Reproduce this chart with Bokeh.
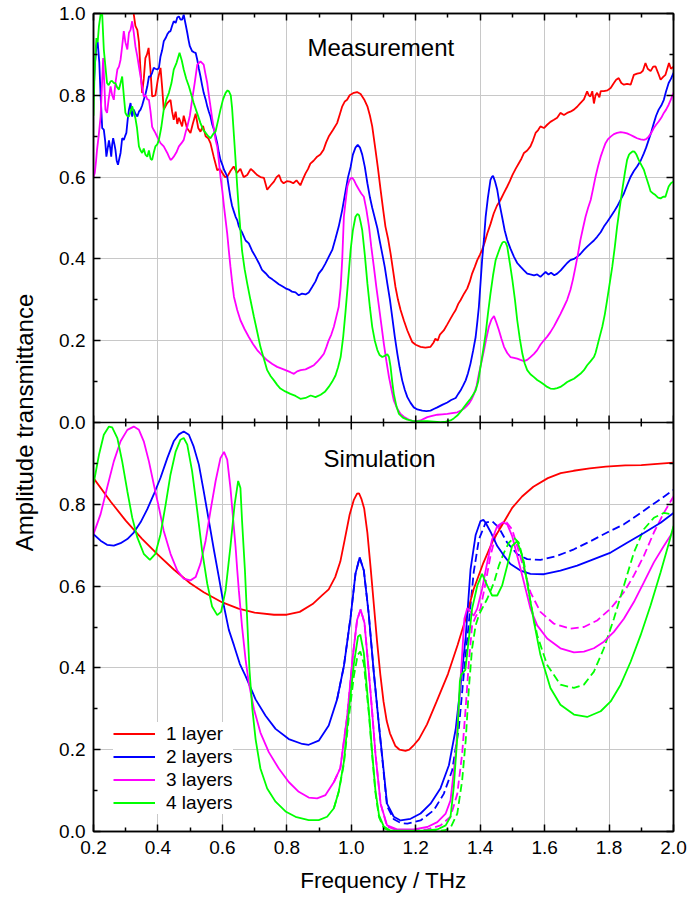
from bokeh.plotting import figure
from bokeh.models import (Range1d, LinearAxis, FixedTicker, PrintfTickFormatter,
                          Span, Label, Legend, LegendItem)
from bokeh.embed import file_html
from bokeh.resources import INLINE

# ---------------- data ----------------
X_MAJOR = [0.2, 0.4, 0.6, 0.8, 1.0, 1.2, 1.4, 1.6, 1.8, 2.0]
X_MINOR = [0.3, 0.5, 0.7, 0.9, 1.1, 1.3, 1.5, 1.7, 1.9]
Y_MAJOR = [0.0, 0.2, 0.4, 0.6, 0.8, 1.0, 1.2, 1.4, 1.6, 1.8, 2.0]
Y_MINOR = [0.1, 0.3, 0.5, 0.7, 0.9, 1.1, 1.3, 1.5, 1.7, 1.9]
# labels of the upper (Measurement) panel ticks
Y_TOP_LABELS = {1.0: "0.0", 1.2: "0.2", 1.4: "0.4", 1.6: "0.6", 1.8: "0.8", 2.0: "1.0"}

SERIES_NAMES = ["1 layer", "2 layers", "3 layers", "4 layers"]
COLORS = ["#ff0000", "#0000ff", "#ff00ff", "#00ff00"]

# Measurement, 1 layer
M1 = [(0.315,1.03),(0.325,0.998),(0.330,0.97),(0.336,0.96),(0.341,0.93),(0.346,0.86),(0.351,0.806),
(0.356,0.84),(0.361,0.891),(0.366,0.90),(0.371,0.916),(0.377,0.86),(0.382,0.797),(0.392,0.80),
(0.400,0.84),(0.408,0.867),(0.413,0.82),(0.418,0.765),(0.428,0.78),(0.439,0.789),(0.444,0.76),
(0.449,0.74),(0.455,0.76),(0.460,0.73),(0.465,0.745),(0.475,0.724),(0.480,0.75),(0.490,0.72),
(0.501,0.708),(0.508,0.73),(0.517,0.755),(0.525,0.72),(0.532,0.711),(0.540,0.725),(0.548,0.70),
(0.556,0.695),(0.563,0.683),(0.573,0.65),(0.584,0.617),(0.592,0.62),(0.600,0.61),(0.608,0.60),
(0.615,0.601),(0.625,0.615),(0.635,0.626),(0.645,0.61),(0.656,0.62),(0.666,0.60),(0.677,0.605),
(0.688,0.62),(0.698,0.613),(0.708,0.605),(0.718,0.60),(0.729,0.598),(0.739,0.569),(0.750,0.58),
(0.760,0.589),(0.768,0.60),(0.776,0.605),(0.783,0.59),(0.790,0.585),(0.800,0.59),(0.810,0.589),
(0.820,0.585),(0.830,0.592),(0.842,0.58),(0.850,0.595),(0.858,0.609),(0.866,0.62),(0.873,0.633),
(0.883,0.64),(0.894,0.65),(0.904,0.655),(0.914,0.667),(0.922,0.685),(0.930,0.699),(0.943,0.715),
(0.956,0.732),(0.965,0.755),(0.972,0.773),(0.980,0.785),(0.987,0.789),(0.995,0.80),(1.008,0.806),
(1.018,0.808),(1.029,0.803),(1.040,0.79),(1.050,0.773),(1.058,0.75),(1.065,0.724),(1.075,0.667),
(1.083,0.62),(1.091,0.569),(1.099,0.52),(1.106,0.479),(1.114,0.45),(1.122,0.413),(1.130,0.37),
(1.137,0.332),(1.145,0.30),(1.153,0.275),(1.163,0.25),(1.174,0.225),(1.182,0.21),(1.189,0.197),
(1.200,0.19),(1.215,0.185),(1.230,0.183),(1.246,0.185),(1.255,0.195),(1.261,0.205),(1.268,0.20),
(1.275,0.215),(1.287,0.225),(1.298,0.24),(1.308,0.254),(1.316,0.265),(1.324,0.275),(1.332,0.29),
(1.339,0.299),(1.350,0.315),(1.360,0.328),(1.368,0.345),(1.375,0.364),(1.383,0.38),(1.391,0.397),
(1.399,0.41),(1.406,0.422),(1.414,0.44),(1.422,0.462),(1.432,0.485),(1.442,0.511),(1.452,0.53),
(1.463,0.544),(1.473,0.56),(1.484,0.577),(1.492,0.59),(1.500,0.605),(1.510,0.62),(1.520,0.634),
(1.528,0.645),(1.536,0.659),(1.546,0.665),(1.556,0.675),(1.564,0.69),(1.572,0.708),(1.580,0.715),
(1.587,0.724),(1.598,0.72),(1.608,0.728),(1.618,0.735),(1.629,0.74),(1.639,0.745),(1.649,0.757),
(1.660,0.752),(1.670,0.757),(1.680,0.76),(1.691,0.765),(1.701,0.772),(1.711,0.781),(1.722,0.79),
(1.732,0.81),(1.737,0.80),(1.742,0.797),(1.748,0.81),(1.753,0.78),(1.758,0.80),(1.763,0.806),
(1.770,0.795),(1.774,0.81),(1.784,0.81),(1.795,0.812),(1.805,0.818),(1.815,0.83),(1.822,0.838),
(1.830,0.842),(1.838,0.83),(1.846,0.826),(1.856,0.828),(1.867,0.826),(1.877,0.85),(1.887,0.853),
(1.898,0.855),(1.905,0.86),(1.913,0.879),(1.920,0.865),(1.929,0.859),(1.937,0.87),(1.944,0.871),
(1.952,0.855),(1.960,0.838),(1.968,0.845),(1.975,0.85),(1.986,0.879),(1.992,0.865),(2.000,0.87)]

# Measurement, 2 layers
M2 = [(0.200,0.80),(0.204,0.87),(0.209,0.92),(0.213,0.93),(0.218,0.88),(0.222,0.80),(0.227,0.72),
(0.232,0.716),(0.236,0.69),(0.240,0.65),(0.244,0.67),(0.248,0.69),(0.252,0.67),(0.255,0.65),
(0.258,0.68),(0.261,0.695),(0.265,0.68),(0.268,0.667),(0.272,0.64),(0.276,0.63),(0.280,0.645),
(0.284,0.659),(0.289,0.695),(0.294,0.691),(0.298,0.70),(0.302,0.708),(0.306,0.74),(0.310,0.765),
(0.315,0.781),(0.320,0.748),(0.325,0.765),(0.330,0.755),(0.336,0.748),(0.341,0.76),(0.346,0.765),
(0.351,0.775),(0.356,0.789),(0.362,0.805),(0.367,0.822),(0.372,0.846),(0.377,0.846),(0.382,0.855),
(0.387,0.867),(0.392,0.865),(0.398,0.863),(0.403,0.867),(0.408,0.895),(0.413,0.91),(0.418,0.932),
(0.424,0.94),(0.429,0.949),(0.434,0.955),(0.439,0.957),(0.444,0.97),(0.449,0.981),(0.455,0.977),
(0.460,0.99),(0.465,0.993),(0.470,0.985),(0.475,0.985),(0.480,0.997),(0.486,0.973),(0.491,0.953),
(0.495,0.935),(0.499,0.92),(0.506,0.908),(0.512,0.905),(0.517,0.904),(0.522,0.887),(0.527,0.865),
(0.532,0.846),(0.537,0.825),(0.542,0.806),(0.548,0.79),(0.553,0.773),(0.558,0.76),(0.563,0.748),
(0.568,0.73),(0.574,0.716),(0.579,0.70),(0.584,0.683),(0.589,0.66),(0.594,0.642),(0.600,0.63),
(0.605,0.618),(0.610,0.61),(0.615,0.601),(0.620,0.575),(0.625,0.55),(0.630,0.53),(0.636,0.515),
(0.641,0.503),(0.646,0.495),(0.651,0.48),(0.656,0.471),(0.661,0.465),(0.672,0.445),(0.682,0.438),
(0.692,0.42),(0.703,0.405),(0.713,0.39),(0.723,0.373),(0.734,0.365),(0.744,0.356),(0.755,0.35),
(0.765,0.344),(0.775,0.338),(0.786,0.333),(0.796,0.328),(0.806,0.325),(0.816,0.32),(0.827,0.318),
(0.837,0.311),(0.847,0.315),(0.858,0.313),(0.868,0.318),(0.879,0.332),(0.889,0.345),(0.899,0.364),
(0.910,0.375),(0.920,0.389),(0.930,0.405),(0.941,0.422),(0.951,0.45),(0.961,0.479),(0.972,0.52),
(0.982,0.565),(0.990,0.60),(0.998,0.625),(1.005,0.655),(1.013,0.672),(1.020,0.679),(1.027,0.672),
(1.034,0.655),(1.042,0.625),(1.050,0.585),(1.058,0.55),(1.065,0.525),(1.073,0.50),(1.081,0.475),
(1.088,0.445),(1.096,0.413),(1.104,0.38),(1.112,0.339),(1.120,0.30),(1.127,0.258),(1.135,0.21),
(1.143,0.168),(1.150,0.135),(1.158,0.103),(1.166,0.08),(1.174,0.062),(1.184,0.048),(1.194,0.037),
(1.205,0.032),(1.220,0.029),(1.233,0.028),(1.246,0.029),(1.256,0.033),(1.267,0.037),(1.282,0.043),
(1.298,0.049),(1.310,0.055),(1.324,0.06),(1.332,0.07),(1.339,0.078),(1.347,0.09),(1.355,0.103),
(1.362,0.12),(1.370,0.144),(1.378,0.175),(1.386,0.209),(1.391,0.245),(1.396,0.283),(1.401,0.34),
(1.406,0.397),(1.412,0.45),(1.417,0.503),(1.424,0.55),(1.432,0.593),(1.437,0.601),(1.440,0.603),
(1.446,0.59),(1.453,0.569),(1.460,0.535),(1.468,0.503),(1.476,0.47),(1.484,0.446),(1.494,0.425),
(1.505,0.405),(1.515,0.39),(1.525,0.381),(1.536,0.372),(1.546,0.364),(1.556,0.362),(1.567,0.36),
(1.577,0.362),(1.587,0.356),(1.595,0.362),(1.603,0.368),(1.612,0.362),(1.620,0.366),(1.630,0.36),
(1.639,0.364),(1.650,0.372),(1.660,0.381),(1.670,0.39),(1.680,0.397),(1.691,0.40),(1.701,0.405),
(1.711,0.412),(1.722,0.422),(1.732,0.43),(1.743,0.438),(1.753,0.445),(1.763,0.454),(1.774,0.465),
(1.784,0.479),(1.794,0.49),(1.805,0.503),(1.815,0.515),(1.825,0.528),(1.836,0.545),(1.846,0.56),
(1.856,0.58),(1.867,0.601),(1.877,0.615),(1.887,0.626),(1.898,0.64),(1.908,0.658),(1.915,0.672),
(1.923,0.691),(1.931,0.71),(1.939,0.732),(1.946,0.75),(1.954,0.765),(1.962,0.775),(1.970,0.789),
(1.977,0.81),(1.985,0.83),(1.992,0.84),(2.000,0.855)]

# Measurement, 3 layers
M3 = [(0.200,0.60),(0.204,0.61),(0.208,0.64),(0.211,0.667),(0.216,0.70),(0.222,0.748),(0.226,0.82),
(0.230,0.891),(0.234,0.82),(0.237,0.765),(0.242,0.757),(0.247,0.79),(0.253,0.822),(0.258,0.80),
(0.263,0.789),(0.268,0.83),(0.274,0.863),(0.279,0.87),(0.284,0.887),(0.289,0.92),(0.294,0.957),
(0.299,0.93),(0.305,0.912),(0.310,0.953),(0.315,0.96),(0.320,0.981),(0.325,0.953),(0.330,0.92),
(0.336,0.895),(0.341,0.87),(0.346,0.846),(0.351,0.82),(0.356,0.797),(0.362,0.80),(0.367,0.79),
(0.372,0.789),(0.377,0.76),(0.382,0.723),(0.387,0.715),(0.392,0.708),(0.400,0.695),(0.408,0.683),
(0.418,0.675),(0.429,0.659),(0.434,0.65),(0.439,0.642),(0.444,0.645),(0.449,0.65),(0.457,0.66),
(0.465,0.675),(0.473,0.683),(0.480,0.691),(0.486,0.71),(0.491,0.723),(0.499,0.75),(0.506,0.789),
(0.514,0.83),(0.522,0.875),(0.532,0.883),(0.542,0.875),(0.548,0.85),(0.553,0.83),(0.558,0.80),
(0.563,0.773),(0.568,0.745),(0.574,0.716),(0.579,0.69),(0.584,0.675),(0.589,0.64),(0.594,0.601),
(0.600,0.565),(0.605,0.528),(0.610,0.495),(0.615,0.462),(0.620,0.42),(0.625,0.381),(0.630,0.345),
(0.636,0.307),(0.646,0.275),(0.656,0.25),(0.669,0.228),(0.682,0.209),(0.695,0.192),(0.708,0.177),
(0.722,0.165),(0.739,0.152),(0.755,0.143),(0.770,0.136),(0.790,0.13),(0.811,0.123),(0.822,0.119),
(0.832,0.125),(0.843,0.128),(0.858,0.13),(0.874,0.136),(0.884,0.14),(0.894,0.148),(0.905,0.158),
(0.915,0.168),(0.923,0.185),(0.930,0.201),(0.938,0.215),(0.946,0.234),(0.954,0.26),(0.961,0.283),
(0.967,0.33),(0.972,0.40),(0.977,0.503),(0.983,0.545),(0.988,0.577),(0.993,0.59),(0.998,0.597),
(1.003,0.598),(1.008,0.593),(1.016,0.58),(1.024,0.569),(1.031,0.56),(1.039,0.552),(1.047,0.52),
(1.055,0.479),(1.062,0.43),(1.070,0.381),(1.078,0.33),(1.086,0.283),(1.094,0.235),(1.101,0.193),
(1.109,0.15),(1.117,0.111),(1.125,0.08),(1.132,0.054),(1.142,0.035),(1.153,0.021),(1.163,0.014),
(1.174,0.009),(1.184,0.005),(1.194,0.003),(1.205,0.004),(1.215,0.005),(1.225,0.009),(1.236,0.013),
(1.251,0.016),(1.267,0.019),(1.282,0.02),(1.298,0.021),(1.313,0.023),(1.329,0.025),(1.340,0.029),
(1.350,0.034),(1.358,0.04),(1.365,0.046),(1.373,0.056),(1.381,0.07),(1.389,0.09),(1.396,0.119),
(1.404,0.148),(1.412,0.177),(1.419,0.205),(1.427,0.234),(1.435,0.252),(1.443,0.26),(1.450,0.245),
(1.458,0.226),(1.466,0.205),(1.474,0.185),(1.484,0.17),(1.494,0.16),(1.505,0.158),(1.515,0.156),
(1.525,0.153),(1.536,0.15),(1.546,0.153),(1.556,0.16),(1.567,0.168),(1.577,0.177),(1.587,0.19),
(1.598,0.201),(1.608,0.21),(1.618,0.221),(1.629,0.235),(1.639,0.25),(1.649,0.265),(1.660,0.283),
(1.670,0.30),(1.680,0.324),(1.688,0.35),(1.696,0.381),(1.703,0.41),(1.711,0.446),(1.719,0.475),
(1.727,0.503),(1.735,0.525),(1.743,0.544),(1.750,0.57),(1.758,0.601),(1.766,0.627),(1.774,0.65),
(1.782,0.668),(1.789,0.683),(1.797,0.693),(1.805,0.699),(1.815,0.705),(1.825,0.708),(1.836,0.71),
(1.846,0.709),(1.856,0.707),(1.867,0.703),(1.877,0.699),(1.887,0.695),(1.898,0.692),(1.908,0.691),
(1.915,0.693),(1.923,0.699),(1.931,0.708),(1.939,0.72),(1.946,0.728),(1.954,0.736),(1.962,0.745),
(1.970,0.757),(1.977,0.765),(1.985,0.777),(1.992,0.79),(2.000,0.806)]

# Measurement, 4 layers
M4 = [(0.200,0.75),(0.203,0.85),(0.206,0.90),(0.209,0.94),(0.213,0.93),(0.217,0.97),(0.222,0.998),
(0.227,0.998),(0.232,0.912),(0.237,0.87),(0.242,0.830),(0.247,0.825),(0.253,0.834),(0.258,0.835),
(0.263,0.83),(0.268,0.830),(0.273,0.82),(0.279,0.814),(0.284,0.83),(0.289,0.846),(0.294,0.80),
(0.299,0.757),(0.304,0.75),(0.310,0.748),(0.315,0.76),(0.320,0.773),(0.325,0.76),(0.330,0.744),
(0.335,0.72),(0.341,0.675),(0.346,0.665),(0.351,0.659),(0.356,0.67),(0.361,0.655),(0.367,0.650),
(0.372,0.665),(0.377,0.645),(0.382,0.642),(0.387,0.66),(0.392,0.675),(0.398,0.68),(0.403,0.691),
(0.410,0.72),(0.418,0.765),(0.426,0.79),(0.434,0.806),(0.442,0.83),(0.449,0.863),(0.458,0.88),
(0.467,0.904),(0.474,0.885),(0.480,0.863),(0.488,0.84),(0.496,0.822),(0.504,0.80),(0.511,0.781),
(0.520,0.76),(0.532,0.732),(0.540,0.716),(0.548,0.708),(0.556,0.70),(0.563,0.695),(0.571,0.705),
(0.579,0.712),(0.587,0.74),(0.594,0.765),(0.602,0.79),(0.610,0.806),(0.616,0.812),(0.620,0.810),
(0.626,0.80),(0.630,0.77),(0.636,0.70),(0.641,0.64),(0.646,0.577),(0.651,0.52),(0.656,0.47),
(0.661,0.42),(0.669,0.375),(0.677,0.34),(0.687,0.30),(0.698,0.258),(0.708,0.222),(0.718,0.185),
(0.729,0.155),(0.739,0.128),(0.750,0.113),(0.760,0.103),(0.770,0.092),(0.780,0.083),(0.795,0.076),
(0.811,0.070),(0.827,0.065),(0.842,0.058),(0.858,0.06),(0.874,0.066),(0.889,0.062),(0.905,0.068),
(0.918,0.075),(0.930,0.087),(0.941,0.10),(0.951,0.115),(0.959,0.135),(0.967,0.16),(0.975,0.21),
(0.982,0.27),(0.990,0.345),(0.998,0.422),(1.005,0.47),(1.013,0.503),(1.019,0.51),(1.024,0.507),
(1.029,0.49),(1.034,0.47),(1.042,0.41),(1.050,0.34),(1.058,0.28),(1.065,0.234),(1.073,0.20),
(1.081,0.177),(1.088,0.165),(1.096,0.16),(1.104,0.163),(1.112,0.167),(1.117,0.16),(1.122,0.136),
(1.127,0.10),(1.132,0.07),(1.140,0.04),(1.148,0.021),(1.160,0.012),(1.174,0.007),(1.190,0.004),
(1.205,0.003),(1.220,0.003),(1.236,0.003),(1.256,0.002),(1.277,0.001),(1.293,0.002),(1.308,0.005),
(1.318,0.01),(1.329,0.017),(1.340,0.027),(1.350,0.038),(1.360,0.048),(1.370,0.058),(1.378,0.068),
(1.386,0.078),(1.394,0.10),(1.401,0.136),(1.409,0.175),(1.417,0.217),(1.424,0.265),(1.432,0.315),
(1.440,0.36),(1.448,0.397),(1.456,0.415),(1.463,0.430),(1.469,0.44),(1.474,0.442),(1.479,0.44),
(1.484,0.43),(1.492,0.39),(1.500,0.348),(1.508,0.30),(1.515,0.25),(1.523,0.205),(1.531,0.168),
(1.538,0.145),(1.546,0.128),(1.556,0.118),(1.567,0.111),(1.577,0.104),(1.587,0.099),(1.598,0.093),
(1.608,0.087),(1.618,0.083),(1.629,0.082),(1.639,0.084),(1.649,0.087),(1.660,0.093),(1.670,0.099),
(1.680,0.103),(1.691,0.107),(1.701,0.113),(1.711,0.119),(1.722,0.128),(1.732,0.14),(1.743,0.15),
(1.753,0.16),(1.758,0.17),(1.763,0.185),(1.771,0.21),(1.779,0.234),(1.787,0.265),(1.794,0.299),
(1.802,0.34),(1.810,0.381),(1.818,0.43),(1.825,0.479),(1.833,0.525),(1.841,0.569),(1.849,0.61),
(1.856,0.642),(1.862,0.655),(1.867,0.659),(1.873,0.663),(1.879,0.662),(1.885,0.655),(1.892,0.642),
(1.900,0.63),(1.908,0.618),(1.913,0.605),(1.918,0.593),(1.924,0.578),(1.929,0.565),(1.937,0.56),
(1.944,0.556),(1.952,0.55),(1.960,0.548),(1.968,0.552),(1.975,0.552),(1.980,0.565),(1.985,0.577),
(1.992,0.585),(2.000,0.589)]

# Simulation, solid lines
S1 = [(0.200,0.864),(0.253,0.807),(0.300,0.760),(0.325,0.738),(0.350,0.716),(0.398,0.678),
(0.450,0.640),(0.500,0.607),(0.542,0.585),(0.600,0.560),(0.650,0.545),(0.700,0.535),(0.760,0.530),
(0.800,0.530),(0.840,0.537),(0.880,0.556),(0.910,0.578),(0.930,0.592),(0.950,0.622),(0.966,0.660),
(0.980,0.715),(0.995,0.775),(1.008,0.811),(1.018,0.826),(1.024,0.827),(1.032,0.812),(1.040,0.790),
(1.050,0.730),(1.060,0.645),(1.070,0.555),(1.080,0.465),(1.090,0.385),(1.100,0.318),(1.110,0.270),
(1.120,0.240),(1.137,0.209),(1.150,0.200),(1.168,0.197),(1.180,0.200),(1.195,0.212),(1.210,0.226),
(1.235,0.262),(1.265,0.318),(1.300,0.385),(1.330,0.456),(1.355,0.520),(1.380,0.593),(1.410,0.657),
(1.440,0.712),(1.470,0.752),(1.500,0.792),(1.530,0.819),(1.565,0.843),(1.610,0.864),(1.650,0.876),
(1.690,0.882),(1.740,0.888),(1.790,0.892),(1.850,0.895),(1.900,0.896),(1.950,0.899),(2.000,0.902)]

S2 = [(0.200,0.727),(0.222,0.711),(0.242,0.701),(0.263,0.699),(0.284,0.705),(0.305,0.715),
(0.325,0.731),(0.346,0.756),(0.367,0.788),(0.387,0.824),(0.408,0.865),(0.429,0.913),(0.449,0.954),
(0.465,0.971),(0.480,0.978),(0.496,0.970),(0.511,0.941),(0.527,0.897),(0.542,0.832),(0.558,0.760),
(0.574,0.687),(0.589,0.622),(0.605,0.550),(0.620,0.493),(0.636,0.455),(0.654,0.410),(0.672,0.380),
(0.703,0.323),(0.734,0.283),(0.765,0.251),(0.806,0.226),(0.848,0.214),(0.868,0.212),(0.899,0.222),
(0.930,0.259),(0.956,0.323),(0.977,0.404),(0.998,0.525),(1.013,0.630),(1.026,0.670),(1.039,0.638),
(1.054,0.533),(1.070,0.388),(1.086,0.259),(1.101,0.146),(1.111,0.068),(1.132,0.036),(1.153,0.027),
(1.184,0.031),(1.215,0.044),(1.246,0.068),(1.277,0.106),(1.303,0.162),(1.324,0.250),(1.339,0.355),
(1.355,0.475),(1.370,0.640),(1.386,0.725),(1.401,0.759),(1.410,0.762),(1.417,0.755),(1.432,0.733),
(1.453,0.698),(1.474,0.674),(1.494,0.654),(1.525,0.638),(1.556,0.630),(1.598,0.629),(1.649,0.638),
(1.701,0.650),(1.753,0.666),(1.805,0.682),(1.856,0.706),(1.908,0.730),(1.960,0.755),(2.000,0.779)]

S3 = [(0.200,0.727),(0.222,0.776),(0.242,0.840),(0.263,0.905),(0.284,0.954),(0.305,0.982),
(0.325,0.990),(0.341,0.982),(0.356,0.954),(0.372,0.905),(0.387,0.849),(0.403,0.792),(0.418,0.735),
(0.439,0.679),(0.460,0.638),(0.480,0.618),(0.501,0.614),(0.517,0.622),(0.532,0.655),(0.548,0.711),
(0.563,0.784),(0.579,0.857),(0.594,0.913),(0.605,0.928),(0.615,0.909),(0.625,0.840),(0.636,0.740),
(0.641,0.695),(0.646,0.640),(0.651,0.590),(0.661,0.501),(0.672,0.420),(0.682,0.363),(0.698,0.299),
(0.718,0.242),(0.744,0.194),(0.775,0.154),(0.806,0.121),(0.837,0.097),(0.868,0.083),(0.894,0.081),
(0.920,0.089),(0.946,0.121),(0.966,0.155),(0.987,0.280),(1.005,0.430),(1.018,0.517),(1.029,0.543),
(1.041,0.510),(1.055,0.385),(1.065,0.290),(1.075,0.190),(1.091,0.068),(1.111,0.015),(1.142,0.005),
(1.194,0.005),(1.236,0.011),(1.267,0.023),(1.293,0.044),(1.308,0.076),(1.324,0.189),(1.334,0.310),
(1.344,0.432),(1.351,0.520),(1.360,0.546),(1.370,0.537),(1.380,0.528),(1.391,0.545),(1.406,0.593),
(1.422,0.658),(1.437,0.714),(1.453,0.747),(1.471,0.756),(1.484,0.751),(1.499,0.723),(1.515,0.674),
(1.536,0.609),(1.556,0.545),(1.577,0.504),(1.608,0.472),(1.649,0.448),(1.691,0.438),(1.722,0.440),
(1.753,0.448),(1.784,0.464),(1.815,0.488),(1.846,0.520),(1.877,0.561),(1.908,0.609),(1.939,0.658),
(1.970,0.698),(2.000,0.735)]

S4 = [(0.200,0.849),(0.217,0.921),(0.232,0.970),(0.248,0.990),(0.258,0.988),(0.274,0.962),
(0.289,0.905),(0.305,0.832),(0.320,0.768),(0.336,0.719),(0.356,0.679),(0.375,0.664),(0.392,0.679),
(0.408,0.727),(0.424,0.800),(0.439,0.873),(0.455,0.929),(0.470,0.958),(0.480,0.962),(0.491,0.946),
(0.506,0.881),(0.522,0.784),(0.537,0.687),(0.553,0.606),(0.568,0.550),(0.584,0.529),(0.596,0.537),
(0.610,0.590),(0.625,0.697),(0.638,0.800),(0.649,0.857),(0.656,0.840),(0.661,0.760),(0.670,0.638),
(0.677,0.517),(0.684,0.396),(0.693,0.299),(0.703,0.226),(0.718,0.154),(0.739,0.105),(0.765,0.073),
(0.796,0.049),(0.827,0.036),(0.868,0.028),(0.899,0.028),(0.925,0.036),(0.946,0.057),(0.961,0.097),
(0.977,0.170),(0.992,0.291),(1.008,0.410),(1.021,0.477),(1.028,0.481),(1.039,0.436),(1.055,0.290),
(1.065,0.190),(1.075,0.100),(1.086,0.040),(1.101,0.012),(1.122,0.002),(1.225,0.002),(1.267,0.005),
(1.293,0.015),(1.308,0.036),(1.318,0.108),(1.329,0.230),(1.337,0.367),(1.341,0.383),(1.354,0.395),
(1.365,0.472),(1.375,0.545),(1.391,0.601),(1.406,0.630),(1.422,0.601),(1.437,0.577),(1.453,0.577),
(1.468,0.601),(1.484,0.650),(1.499,0.698),(1.515,0.710),(1.530,0.674),(1.546,0.609),(1.567,0.512),
(1.587,0.432),(1.618,0.351),(1.649,0.310),(1.691,0.286),(1.732,0.280),(1.774,0.294),(1.805,0.318),
(1.836,0.359),(1.867,0.415),(1.898,0.480),(1.929,0.553),(1.960,0.634),(1.986,0.706),(2.000,0.747)]

# Simulation, dashed lines
S2D = [(0.956,0.323),(0.977,0.404),(0.998,0.525),(1.013,0.630),(1.026,0.670),(1.039,0.638),
(1.054,0.533),(1.070,0.388),(1.086,0.259),(1.101,0.140),(1.111,0.062),(1.132,0.030),(1.153,0.021),
(1.174,0.019),(1.215,0.027),(1.256,0.052),(1.287,0.092),(1.313,0.149),(1.334,0.254),(1.349,0.383),
(1.365,0.512),(1.380,0.634),(1.396,0.714),(1.417,0.755),(1.437,0.759),(1.458,0.743),(1.484,0.706),
(1.515,0.678),(1.546,0.666),(1.587,0.664),(1.639,0.674),(1.691,0.690),(1.743,0.710),(1.794,0.731),
(1.846,0.751),(1.898,0.779),(1.949,0.807),(2.000,0.835)]

S3D = [(0.946,0.121),(0.966,0.155),(0.987,0.280),(1.005,0.430),(1.018,0.517),(1.029,0.543),
(1.041,0.510),(1.055,0.385),(1.065,0.290),(1.075,0.190),(1.091,0.068),(1.111,0.012),(1.142,0.003),
(1.194,0.003),(1.236,0.005),(1.277,0.015),(1.308,0.036),(1.329,0.092),(1.344,0.189),(1.355,0.302),
(1.365,0.415),(1.375,0.504),(1.386,0.525),(1.401,0.545),(1.417,0.609),(1.432,0.674),(1.448,0.723),
(1.463,0.751),(1.482,0.756),(1.499,0.739),(1.515,0.698),(1.536,0.642),(1.556,0.585),(1.587,0.537),
(1.629,0.508),(1.680,0.496),(1.722,0.500),(1.763,0.516),(1.805,0.545),(1.846,0.585),(1.877,0.626),
(1.908,0.674),(1.939,0.731),(1.970,0.779),(2.000,0.819)]

S4D = [(0.946,0.057),(0.961,0.097),(0.977,0.165),(0.992,0.275),(1.008,0.380),(1.020,0.432),
(1.028,0.440),(1.039,0.410),(1.055,0.285),(1.065,0.185),(1.075,0.095),(1.086,0.035),(1.101,0.008),
(1.122,0.001),(1.250,0.001),(1.290,0.003),(1.308,0.009),(1.329,0.044),(1.344,0.124),(1.355,0.221),
(1.365,0.351),(1.375,0.448),(1.386,0.504),(1.396,0.529),(1.406,0.545),(1.422,0.569),(1.443,0.609),
(1.458,0.650),(1.474,0.682),(1.489,0.706),(1.505,0.718),(1.520,0.706),(1.536,0.658),(1.556,0.561),
(1.577,0.480),(1.608,0.407),(1.649,0.359),(1.691,0.351),(1.722,0.359),(1.753,0.391),(1.784,0.448),
(1.815,0.520),(1.846,0.601),(1.877,0.682),(1.908,0.739),(1.939,0.767),(1.970,0.779),(2.000,0.775)]

MEASURED = [M1, M2, M3, M4]
SIMULATED = [S1, S2, S3, S4]
SIMULATED_DASHED = [None, S2D, S3D, S4D]

# ---------------- figure ----------------
FONT = "Liberation Sans"
LW = 1.8

p = figure(width=689, height=897, output_backend="svg", toolbar_location=None,
           x_range=Range1d(0.2, 2.0), y_range=Range1d(0.0, 2.0),
           min_border_left=93, min_border_right=16, min_border_top=13, min_border_bottom=66,
           background_fill_color="white", border_fill_color="white")
# the upper panel has its own scale: 0..1 fills the upper half of the frame
p.extra_y_ranges = {"top": Range1d(-1.0, 1.0)}
p.outline_line_color = "black"
p.outline_line_width = 1.5

xt = FixedTicker(ticks=X_MAJOR, minor_ticks=X_MINOR)
yt = FixedTicker(ticks=Y_MAJOR, minor_ticks=Y_MINOR)

xaxis = p.below[0]
yaxis = p.left[0]
top_ax = LinearAxis()
right_ax = LinearAxis()
p.add_layout(top_ax, "above")
p.add_layout(right_ax, "right")

for ax, tk in ((xaxis, xt), (yaxis, yt), (top_ax, xt), (right_ax, yt)):
    ax.ticker = tk
    ax.axis_line_color = "black"
    ax.axis_line_width = 1.5
    ax.major_tick_in = 7
    ax.major_tick_out = 0
    ax.minor_tick_in = 4
    ax.minor_tick_out = 0
    ax.major_tick_line_width = 1.5
    ax.minor_tick_line_width = 1.5
    ax.major_tick_line_color = "black"
    ax.minor_tick_line_color = "black"
    ax.major_label_text_font = FONT
    ax.major_label_text_color = "black"
    ax.major_label_text_font_size = "19px"
    ax.formatter = PrintfTickFormatter(format="%.1f")
    ax.axis_label_text_font = FONT
    ax.axis_label_text_font_style = "normal"
    ax.axis_label_text_color = "black"
# top and right frame edges carry ticks only
for ax in (top_ax, right_ax):
    ax.major_label_text_font_size = "0px"
    ax.major_label_text_color = None
    ax.major_label_standoff = 0

yaxis.major_label_overrides = Y_TOP_LABELS
xaxis.major_label_standoff = 9
yaxis.major_label_standoff = 8
xaxis.axis_label = "Frequency / THz"
yaxis.axis_label = "Amplitude transmittance"
xaxis.axis_label_text_font_size = "22.5px"
yaxis.axis_label_text_font_size = "24px"
xaxis.axis_label_standoff = 11
yaxis.axis_label_standoff = 18

p.xgrid.ticker = xt
p.ygrid.ticker = yt
for g in (p.xgrid[0], p.ygrid[0]):
    g.grid_line_color = "#c8c8c8"
    g.grid_line_width = 1

# measured curves (upper panel)
for data, c in zip(MEASURED, COLORS):
    p.line([d[0] for d in data], [d[1] for d in data], line_color=c, line_width=LW,
           y_range_name="top")

# simulated dashed curves (lower panel)
for data, c in zip(SIMULATED_DASHED, COLORS):
    if data is None:
        continue
    p.line([d[0] for d in data], [d[1] for d in data], line_color=c, line_width=LW,
           line_dash="8 4")

# simulated solid curves (lower panel)
sim_renderers = []
for data, c in zip(SIMULATED, COLORS):
    r = p.line([d[0] for d in data], [d[1] for d in data], line_color=c, line_width=LW)
    sim_renderers.append(r)

# boundary between the panels, with ticks into both panels
p.add_layout(Span(location=1.0, dimension="width", line_color="black", line_width=1.5))
p.scatter(X_MAJOR, [1.0] * len(X_MAJOR), marker="dash", angle=1.5708, size=14,
          line_color="black", line_width=1.5)
p.scatter(X_MINOR, [1.0] * len(X_MINOR), marker="dash", angle=1.5708, size=8,
          line_color="black", line_width=1.5)

# panel titles
p.add_layout(Label(x=0.864, y=0.917, y_range_name="top", text="Measurement",
                   text_font=FONT, text_font_size="24px", text_baseline="middle",
                   text_color="black"))
p.add_layout(Label(x=0.914, y=0.912, text="Simulation",
                   text_font=FONT, text_font_size="24px", text_baseline="middle",
                   text_color="black"))

legend = Legend(items=[LegendItem(label=n, renderers=[r]) for n, r in zip(SERIES_NAMES, sim_renderers)],
                location=(20, 17), border_line_color=None, background_fill_color="white",
                background_fill_alpha=1.0, label_text_font=FONT, label_text_font_size="19px",
                label_text_color="black", glyph_width=42, glyph_height=23, label_height=23,
                spacing=0, padding=9, margin=0, label_standoff=11)
p.add_layout(legend)

open("out.html", "w").write(file_html(p, INLINE))
